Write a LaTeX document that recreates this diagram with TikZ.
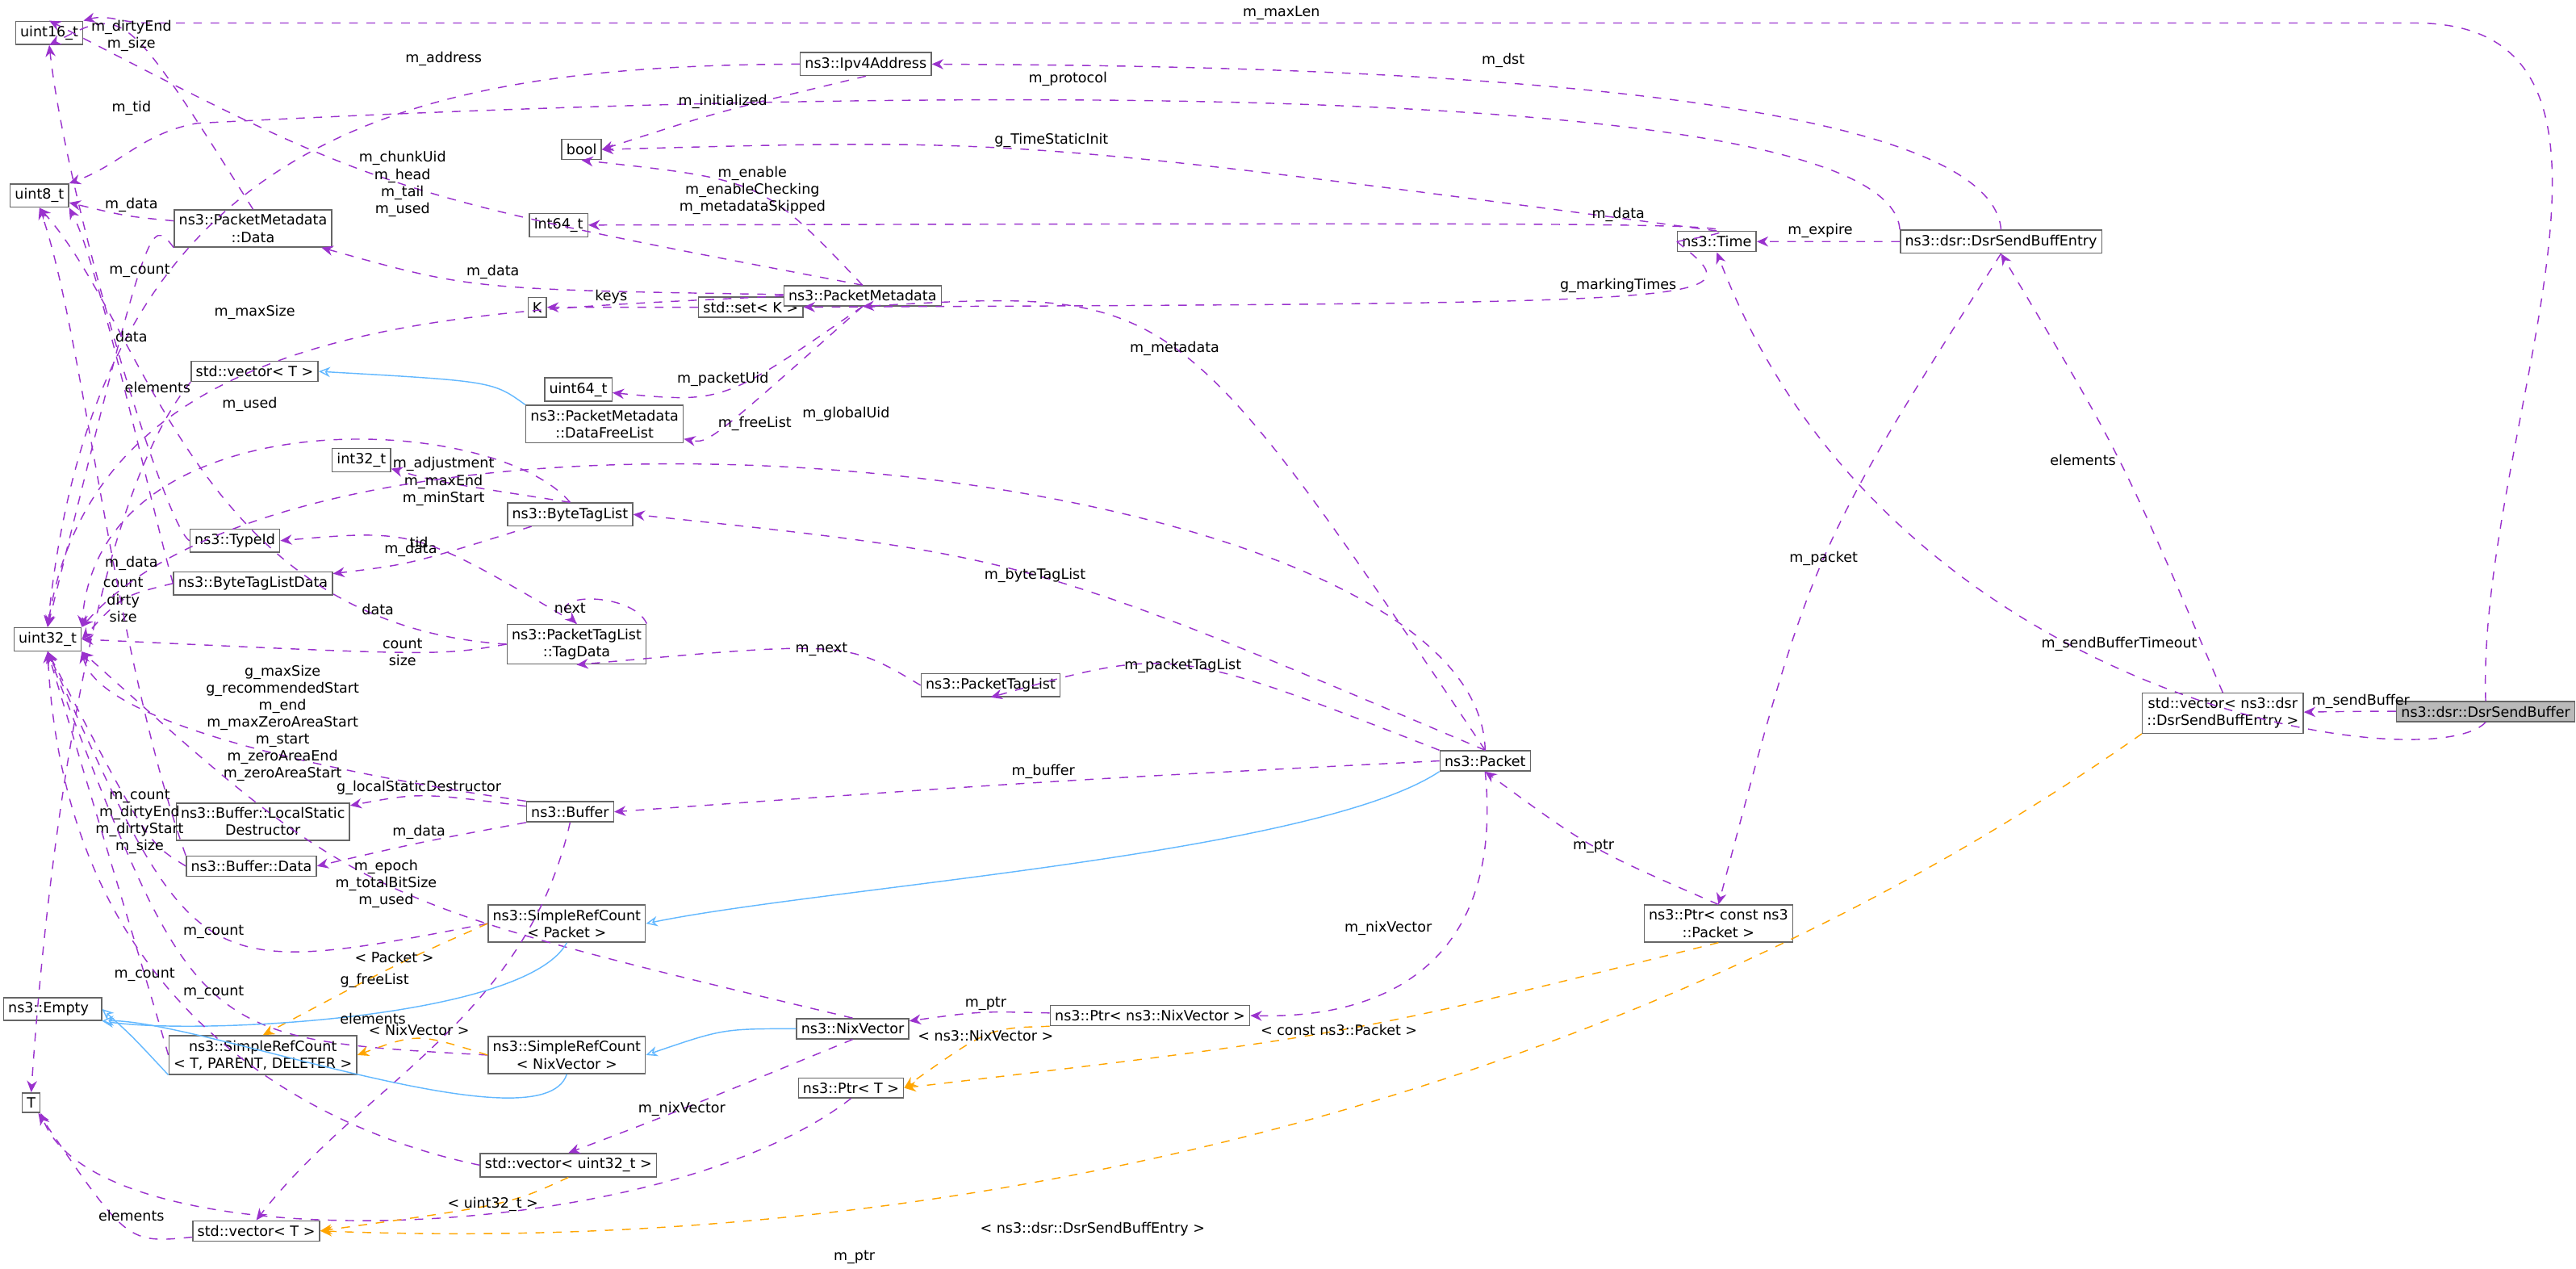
\documentclass[tikz,border=0pt]{standalone}
\usepackage{fontspec}
\setmainfont{DejaVu Sans}
\usetikzlibrary{arrows.meta, calc}

\definecolor{depc}{HTML}{9A32CD}
\definecolor{inhc}{HTML}{63B8FF}
\definecolor{tplc}{HTML}{FFA500}

\newcommand\lt{\textless\ }
\newcommand\gt{\ \textgreater}
\tikzset{
  cls/.style={draw=gray!80!black, fill=white, inner sep=1.6pt, align=center, font=\fontsize{4.9}{5.9}\selectfont},
  main/.style={cls, fill=gray!55},
  dep/.style={depc, dashed, thin, -{Stealth[length=4pt,width=3.5pt]}},
  inh/.style={inhc, thin, -{Stealth[length=4pt,width=3.5pt,open,fill=white]}},
  tpl/.style={tplc, dashed, thin, -{Stealth[length=4pt,width=3.5pt]}},
  lbl/.style={inner sep=1pt, align=center, font=\fontsize{4.9}{5.9}\selectfont}
}
% connector through a point, plus its label
\newcommand\dep[6][dep]{%
  \draw[#1] (#2) .. controls ($1.3333*(#4)-0.16667*(#2)-0.16667*(#3)$) .. (#3);
  \node[lbl, anchor=#5] at (#4) {#6};}

\begin{document}
\begin{tikzpicture}[x=0.02cm, y=-0.02cm]
  \useasboundingbox (0,0) rectangle (1568,772);

  % classes
  \node[cls] (u16) at (30,20) {uint16\_t};
  \node[cls] (u8) at (24,119) {uint8\_t};
  \node[cls] (u32) at (29,389) {uint32\_t};
  \node[cls, align=left] (empty) at (32,614) {ns3::Empty\hspace*{0.1cm}};
  \node[cls] (T) at (19,671) {T};
  \node[cls] (bool) at (354,91) {bool};
  \node[cls] (ipv4) at (527,39) {ns3::Ipv4Address};
  \node[cls] (i64) at (340,137) {int64\_t};
  \node[cls] (K) at (327,187) {K};
  \node[cls] (setk) at (457,187) {std::set\lt K\gt};
  \node[cls] (time) at (1045,147) {ns3::Time};
  \node[cls] (entry) at (1218,147) {ns3::dsr::DsrSendBuffEntry};
  \node[cls] (pmdata) at (154,139) {ns3::PacketMetadata\\::Data};
  \node[cls] (u64) at (352,237) {uint64\_t};
  \node[cls] (pm) at (525,180) {ns3::PacketMetadata};
  \node[cls] (vectop) at (155,226) {std::vector\lt T\gt};
  \node[cls] (freelist) at (368,258) {ns3::PacketMetadata\\::DataFreeList};
  \node[cls] (i32) at (220,280) {int32\_t};
  \node[cls] (typeid) at (143,329) {ns3::TypeId};
  \node[cls] (btl) at (347,313) {ns3::ByteTagList};
  \node[cls] (btld) at (154,355) {ns3::ByteTagListData};
  \node[cls] (tagdata) at (351,392) {ns3::PacketTagList\\::TagData};
  \node[cls] (ptl) at (603,417) {ns3::PacketTagList};
  \node[cls] (packet) at (904,463) {ns3::Packet};
  \node[cls] (lsd) at (160,500) {ns3::Buffer::LocalStatic\\Destructor};
  \node[cls] (buffer) at (347,494) {ns3::Buffer};
  \node[cls] (bufdata) at (153,527) {ns3::Buffer::Data};
  \node[cls] (srcP) at (345,562) {ns3::SimpleRefCount\\\lt Packet\gt};
  \node[cls] (srcT) at (160,642) {ns3::SimpleRefCount\\\lt T, PARENT, DELETER\gt};
  \node[cls] (srcN) at (345,642) {ns3::SimpleRefCount\\\lt NixVector\gt};
  \node[cls] (nix) at (519,626) {ns3::NixVector};
  \node[cls] (ptrnix) at (700,618) {ns3::Ptr\lt ns3::NixVector\gt};
  \node[cls] (ptrT) at (518,662) {ns3::Ptr\lt T\gt};
  \node[cls] (vecu32) at (346,709) {std::vector\lt uint32\_t\gt};
  \node[cls] (vecbot) at (156,749) {std::vector\lt T\gt};
  \node[cls] (ptrpkt) at (1046,562) {ns3::Ptr\lt const ns3\\::Packet\gt};
  \node[cls] (vecdsr) at (1353,434) {std::vector\lt ns3::dsr\\::DsrSendBuffEntry\gt};
  \node[main] (dsrbuf) at (1513,433) {ns3::dsr::DsrSendBuffer};

  % connectors
  \draw[dep] (dsrbuf.north) to[out=92,in=0] (1470,14) -- (90,14) to[out=180,in=15] (u16.north east);
  \node[lbl, anchor=south] at (780,14) {m\_maxLen};
  \dep{dsrbuf}{vecdsr}{1437,433}{south}{m\_sendBuffer}
  \draw[dep] (dsrbuf.south) .. controls (1480,475) and (1150,430) .. (time.south);
  \node[lbl] at (1290,392) {m\_sendBufferTimeout};
  \dep{vecdsr.north}{entry.south}{1290,280}{east}{elements}
  \draw[dep] (entry.north) .. controls (1210,40) and (700,40) .. (ipv4.east);
  \node[lbl] at (915,37) {m\_dst};
  \draw[dep] (entry.north west) .. controls (1150,50) and (600,50) .. (120,75) to[out=190,in=20] (u8.north east);
  \node[lbl] at (650,48) {m\_protocol};
  \dep{entry}{time}{1108,147}{south}{m\_expire}
  \dep{entry.south}{ptrpkt.north}{1110,340}{center}{m\_packet}
  \draw[dep] (ipv4.west) .. controls (250,40) and (60,80) .. (u32.north);
  \node[lbl] at (270,36) {m\_address};
  \dep{ipv4.south}{bool.east}{440,68}{south}{m\_initialized}
  \dep{time.north}{bool.east}{640,92}{south}{g\_TimeStaticInit}
  \dep{time.west}{i64}{985,137}{south}{m\_data}
  \dep{time.west}{setk}{985,180}{south}{g\_markingTimes}
  \dep{setk}{K}{372,187}{south}{keys}
  \dep{pm.north}{u16.north}{245,112}{center}{m\_chunkUid\\m\_head\\m\_tail\\m\_used}
  \dep{pm.north}{bool.south}{458,116}{center}{m\_enable\\m\_enableChecking\\m\_metadataSkipped}
  \dep{pm}{pmdata}{300,172}{south}{m\_data}
  \draw[dep] (pm.west) .. controls (300,190) and (60,185) .. (u32.north);
  \node[lbl] at (155,190) {m\_maxSize};
  \dep{pm.south}{u64}{440,237}{south}{m\_packetUid}
  \dep{pm.south}{freelist}{435,258}{west}{m\_freeList}
  \dep{pmdata.north}{u16.south}{80,22}{center}{m\_dirtyEnd\\m\_size}
  \dep{pmdata}{u8}{80,131}{south}{m\_data}
  \dep{pmdata.south west}{u32.north}{85,165}{center}{m\_count}
  \draw[inh] (freelist.north west) .. controls (300,232) .. (vectop.east);
  \draw[dep] (vectop.south west) .. controls (60,300) and (30,500) .. (T.north);
  \node[lbl] at (96,236) {elements};
  \dep{btl.north}{i32}{270,293}{center}{m\_adjustment\\m\_maxEnd\\m\_minStart}
  \dep{btl}{btld}{250,341}{south}{m\_data}
  \draw[dep] (btl.north) .. controls (300,250) and (60,240) .. (u32.north east);
  \node[lbl] at (152,246) {m\_used};
  \draw[dep] (typeid.west) .. controls (100,320) and (40,120) .. (u16.south);
  \node[lbl] at (80,66) {m\_tid};
  \dep{btld.west}{u32.east}{75,365}{center}{count\\dirty\\size}
  \draw[dep] (btld.west) .. controls (90,300) and (60,160) .. (u8.south east);
  \node[lbl] at (80,205) {data};
  \dep{tagdata.north}{typeid.east}{255,330}{center}{tid}
  \draw[dep] (tagdata.north east) .. controls (385,360) and (330,360) .. (tagdata.north);
  \node[lbl] at (347,370) {next};
  \dep{tagdata.west}{u32.east}{245,397}{center}{count\\size}
  \draw[dep] (tagdata.west) .. controls (120,380) and (90,200) .. (u8.south);
  \node[lbl] at (230,371) {data};
  \dep{ptl.west}{tagdata.south}{500,395}{center}{m\_next}
  \dep{packet.north}{pm.south}{715,212}{center}{m\_metadata}
  \draw[dep] (packet.north) .. controls (900,280) and (200,210) .. (u32.north east);
  \node[lbl] at (515,252) {m\_globalUid};
  \dep{packet.north}{btl.east}{630,350}{center}{m\_byteTagList}
  \dep{packet.north west}{ptl.south}{720,405}{center}{m\_packetTagList}
  \dep{packet.west}{buffer.east}{635,476}{south}{m\_buffer}
  \draw[dep] (packet.south) .. controls (915,580) and (850,620) .. (ptrnix.east);
  \node[lbl] at (845,565) {m\_nixVector};
  \draw[inh] (packet.south west) .. controls (800,520) and (500,540) .. (srcP.east);
  \dep{buffer}{lsd}{255,486}{south}{g\_localStaticDestructor}
  \dep{buffer.south west}{bufdata.east}{255,513}{south}{m\_data}
  \draw[dep] (buffer.north west) .. controls (200,470) and (60,440) .. (u32.south east);
  \node[lbl] at (172,440) {g\_maxSize\\g\_recommendedStart\\m\_end\\m\_maxZeroAreaStart\\m\_start\\m\_zeroAreaEnd\\m\_zeroAreaStart};
  \draw[dep] (buffer.south) .. controls (320,620) and (220,660) .. (vecbot.north);
  \node[lbl] at (228,597) {g\_freeList};
  \dep{bufdata.west}{u32.south}{85,500}{center}{m\_count\\m\_dirtyEnd\\m\_dirtyStart\\m\_size}
  \draw[dep] (bufdata.north west) .. controls (70,400) and (50,200) .. (u8.south);
  \node[lbl] at (80,343) {m\_data};
  \dep{srcP.west}{u32.south}{130,567}{center}{m\_count}
  \dep{srcT.west}{u32.south}{88,593}{center}{m\_count}
  \dep{srcN.west}{u32.south}{130,604}{center}{m\_count}
  \dep{nix.north}{u32.south east}{235,538}{center}{m\_epoch\\m\_totalBitSize\\m\_used}
  \dep{nix.south}{vecu32.north}{415,675}{center}{m\_nixVector}
  \dep[tpl]{srcN.west}{srcT.east}{255,632}{south}{\lt NixVector\gt}
  \dep[tpl]{srcP.west}{srcT.north}{240,588}{south}{\lt Packet\gt}
  \draw[inh] (srcT.south west) .. controls (80,630) .. (empty.east);
  \draw[inh] (srcP.south) .. controls (320,620) and (120,630) .. (empty.south east);
  \draw[inh] (srcN.south) .. controls (330,700) and (120,620) .. (empty.south east);
  \draw[inh] (nix.west) .. controls (440,626) .. (srcN.east);
  \dep{ptrnix}{nix}{600,617}{south}{m\_ptr}
  \dep[tpl]{ptrnix.south west}{ptrT.east}{600,630}{center}{\lt ns3::NixVector\gt}
  \dep[tpl]{ptrpkt.south}{ptrT.east}{815,627}{center}{\lt const ns3::Packet\gt}
  \draw[dep] (ptrT.south) .. controls (400,760) and (60,770) .. (T.south east);
  \node[lbl] at (520,765) {m\_ptr};
  \dep{ptrpkt.north}{packet.south}{970,515}{center}{m\_ptr}
  \draw[dep] (vecu32.west) .. controls (200,690) and (40,620) .. (u32.south);
  \node[lbl] at (227,620) {elements};
  \dep[tpl]{vecu32.south}{vecbot.east}{300,733}{center}{\lt uint32\_t\gt}
  \dep{vecbot}{T}{80,745}{south}{elements}
  \draw[tpl] (vecdsr.south west) .. controls (1000,660) and (600,765) .. (vecbot.east);
  \node[lbl] at (665,748) {\lt ns3::dsr::DsrSendBuffEntry\gt};
\end{tikzpicture}
\end{document}
